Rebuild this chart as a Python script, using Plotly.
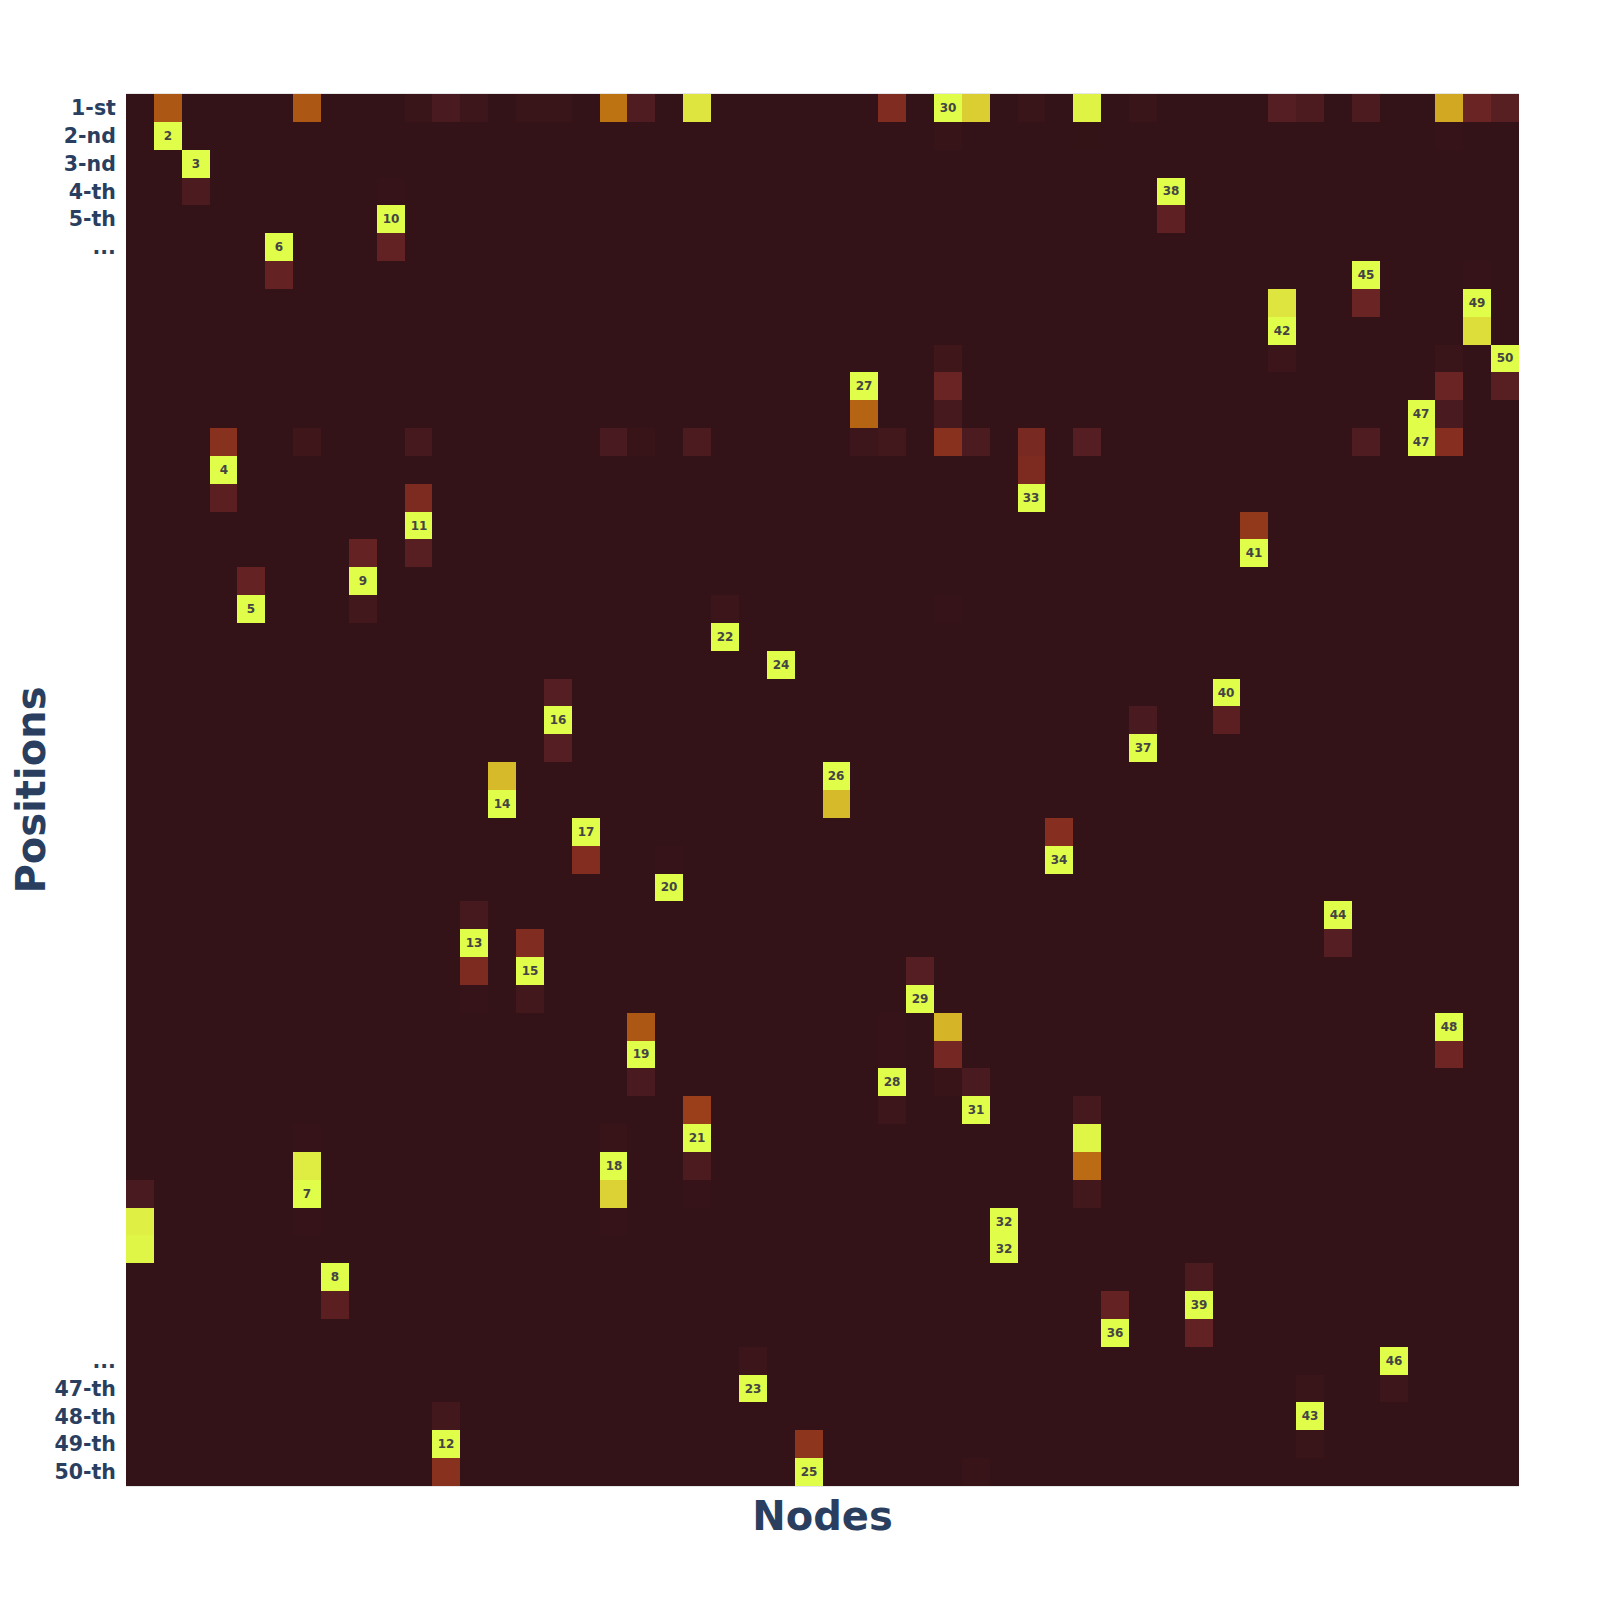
import numpy as np
import plotly.graph_objects as go

n_nodes = 50

# every non-zero cell, one line per node
node_ids = [
    0, 0, 0,
    1, 1,
    2, 2,
    3, 3, 3,
    4, 4,
    5, 5,
    6, 6, 6, 6, 6, 6,
    7, 7,
    8, 8, 8,
    9, 9, 9,
    10, 10, 10, 10, 10,
    11, 11, 11, 11,
    12, 12, 12, 12, 12,
    13, 13,
    14, 14, 14, 14,
    15, 15, 15, 15,
    16, 16,
    17, 17, 17, 17, 17, 17,
    18, 18, 18, 18, 18,
    19, 19,
    20, 20, 20, 20, 20, 20,
    21, 21,
    22, 22,
    23,
    24, 24,
    25, 25,
    26, 26, 26,
    27, 27, 27, 27, 27, 27,
    28, 28,
    29, 29, 29, 29, 29, 29, 29, 29, 29, 29,
    30, 30, 30, 30, 30,
    31, 31,
    32, 32, 32, 32,
    33, 33,
    34, 34, 34, 34, 34, 34, 34,
    35, 35,
    36, 36, 36,
    37, 37,
    38, 38, 38,
    39, 39,
    40, 40,
    41, 41, 41, 41,
    42, 42, 42, 42,
    43, 43,
    44, 44, 44, 44,
    45, 45,
    46, 46,
    47, 47, 47, 47, 47, 47, 47, 47,
    48, 48, 48, 48,
    49, 49, 49,
]
position_ids = [
    39, 40, 41,
    0, 1,
    2, 3,
    12, 13, 14,
    17, 18,
    5, 6,
    0, 12, 37, 38, 39, 40,
    42, 43,
    16, 17, 18,
    3, 4, 5,
    0, 12, 14, 15, 16,
    0, 47, 48, 49,
    0, 29, 30, 31, 32,
    24, 25,
    0, 30, 31, 32,
    0, 21, 22, 23,
    26, 27,
    0, 12, 37, 38, 39, 40,
    0, 12, 33, 34, 35,
    27, 28,
    0, 12, 36, 37, 38, 39,
    18, 19,
    45, 46,
    20,
    48, 49,
    24, 25,
    10, 11, 12,
    0, 12, 33, 34, 35, 36,
    31, 32,
    0, 1, 9, 10, 11, 12, 18, 33, 34, 35,
    0, 12, 35, 36, 49,
    40, 41,
    0, 12, 13, 14,
    26, 27,
    0, 1, 12, 36, 37, 38, 39,
    43, 44,
    0, 22, 23,
    3, 4,
    42, 43, 44,
    21, 22,
    15, 16,
    0, 7, 8, 9,
    0, 46, 47, 48,
    29, 30,
    0, 6, 7, 12,
    45, 46,
    11, 12,
    0, 1, 9, 10, 11, 12, 33, 34,
    0, 6, 7, 8,
    0, 9, 10,
]
cell_probs = [
    0.07, 0.96, 0.98,
    0.45, 1.0,
    1.0, 0.08,
    0.28, 1.0, 0.13,
    0.16, 1.0,
    1.0, 0.16,
    0.45, 0.04, 0.005, 0.95, 1.0, 0.005,
    1.0, 0.13,
    0.16, 1.0, 0.05,
    0.005, 1.0, 0.15,
    0.02, 0.06, 0.24, 1.0, 0.12,
    0.07, 0.05, 1.0, 0.28,
    0.03, 0.06, 1.0, 0.24, 0.005,
    0.80, 1.0,
    0.02, 0.25, 1.0, 0.05,
    0.02, 0.11, 1.0, 0.11,
    1.0, 0.26,
    0.56, 0.07, 0.015, 1.0, 0.87, 0.005,
    0.09, 0.015, 0.45, 1.0, 0.07,
    0.005, 1.0,
    0.93, 0.08, 0.35, 1.0, 0.08, 0.005,
    0.025, 1.0,
    0.025, 1.0,
    1.0,
    0.30, 1.0,
    1.0, 0.80,
    1.0, 0.50, 0.03,
    0.25, 0.05, 0.005, 0.005, 1.0, 0.03,
    0.11, 1.0,
    1.0, 0.01, 0.04, 0.18, 0.06, 0.28, 0.005, 0.78, 0.21, 0.015,
    0.86, 0.08, 0.07, 1.0, 0.015,
    1.0, 1.0,
    0.02, 0.22, 0.24, 1.0,
    0.27, 1.0,
    0.97, 0.003, 0.11, 0.06, 0.98, 0.53, 0.05,
    0.16, 1.0,
    0.02, 0.07, 1.0,
    1.0, 0.14,
    0.08, 1.0, 0.15,
    1.0, 0.13,
    0.32, 1.0,
    0.11, 0.93, 1.0, 0.025,
    0.08, 0.02, 1.0, 0.02,
    1.0, 0.11,
    0.08, 1.0, 0.18, 0.09,
    1.0, 0.03,
    1.0, 1.0,
    0.74, 0.005, 0.02, 0.18, 0.07, 0.27, 1.0, 0.19,
    0.18, 0.005, 1.0, 0.91,
    0.12, 1.0, 0.12,
]

tick_positions = [0, 1, 2, 3, 4, 5, 45, 46, 47, 48, 49]
tick_labels = ["1-st", "2-nd", "3-nd", "4-th", "5-th", "...", "...", "47-th", "48-th", "49-th", "50-th"]

z = np.zeros((n_nodes, n_nodes))
z[position_ids, node_ids] = cell_probs

# node number shows only on cells at full probability
text = [[str(c + 1) if z[r, c] >= 1 else "" for c in range(n_nodes)] for r in range(n_nodes)]

fig = go.Figure(go.Heatmap(
    z=z,
    text=text,
    texttemplate="<b>%{text}</b>",
    textfont=dict(size=12, family="DejaVu Sans"),
    colorscale="solar",
    zmin=0,
    zmax=1,
    showscale=False,
))

fig.update_layout(
    template="plotly_white",
    width=1584,
    height=1584,
    margin=dict(l=118, r=73, t=86, b=106),
    font=dict(family="DejaVu Sans", color="#2a3f5f"),
)
fig.update_xaxes(
    title=dict(text="<b>Nodes</b>", font=dict(size=40), standoff=15),
    range=[-0.5, 49.5],
    automargin=False,
    showticklabels=False,
    showgrid=False,
    zeroline=False,
    showline=True,
    mirror=True,
    linecolor="#e6e6e6",
    linewidth=1,
)
fig.update_yaxes(
    title=dict(text="<b>Positions</b>", font=dict(size=40), standoff=13),
    range=[49.5, -0.5],
    automargin=False,
    tickmode="array",
    tickvals=tick_positions,
    ticktext=[f"<b>{t}</b>" for t in tick_labels],
    tickfont=dict(size=20.5),
    ticks="outside",
    ticklen=5,
    tickcolor="rgba(0,0,0,0)",
    showgrid=False,
    zeroline=False,
)

fig.write_html("out.html")
